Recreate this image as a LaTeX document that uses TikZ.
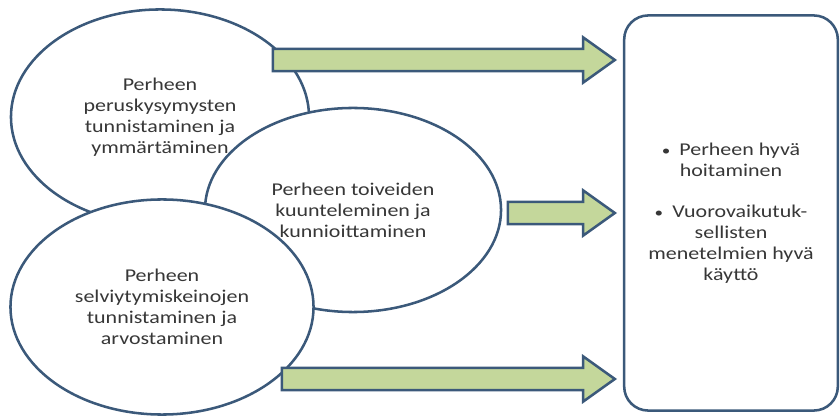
\documentclass[tikz,border=0pt]{standalone}
\usepackage{fontspec}
\setmainfont{Carlito}[FakeStretch=1.22]
\usetikzlibrary{shapes.geometric,shapes.arrows}
\definecolor{rim}{RGB}{59,89,122}
\definecolor{leaf}{RGB}{196,215,155}
\definecolor{ink}{RGB}{55,55,55}
\newcommand{\dotmark}{{\fontsize{10}{10}\selectfont •}\enspace}

\begin{document}
\begin{tikzpicture}[x=0.025cm,y=-0.025cm,
    bubble/.style={ellipse,draw=rim,line width=1.8pt,fill=white,inner sep=0pt},
    words/.style={align=center,text=ink,font=\fontsize{12.8}{14.9}\selectfont},
    push/.style={single arrow,draw=rim,line width=1.8pt,fill=leaf,
        inner xsep=0pt,inner ysep=0.244cm,single arrow head extend=0.29cm,
        single arrow tip angle=71,anchor=tip}]
    \useasboundingbox (0,0) rectangle (840,418);
    % three overlapping circles
    \node[bubble,minimum width=7.45cm,minimum height=5.375cm] (basics) at (160,117) {};
    \node[bubble,minimum width=7.4cm,minimum height=5.1cm] (wishes) at (353,210) {};
    \node[bubble,minimum width=7.575cm,minimum height=5.375cm] (coping) at (162,307) {};
    % outcome box
    \node[draw=rim,line width=1.8pt,rounded corners=0.6cm,minimum width=5.34cm,
        minimum height=9.875cm,words] (care) at (731,213) {%
        \dotmark Perheen hyvä\\hoitaminen\\[0.5cm]
        \dotmark Vuorovaikutuk-\\sellisten\\menetelmien hyvä\\käyttö};
    % arrows
    \node[push,minimum height=342*0.025cm] (toptip) at (617,60) {};
    \node[push,minimum height=107*0.025cm] (midtip) at (617,213) {};
    \node[push,minimum height=333*0.025cm] (lowtip) at (617,379) {};
    % labels
    \node[words] (basicstext) at (basics.center) {Perheen\\peruskysymysten\\tunnistaminen ja\\ymmärtäminen};
    \node[words] (wishestext) at (wishes.center) {Perheen toiveiden\\kuunteleminen ja\\kunnioittaminen};
    \node[words] (copingtext) at (coping.center) {Perheen\\selviytymiskeinojen\\tunnistaminen ja\\arvostaminen};
\end{tikzpicture}
\end{document}
